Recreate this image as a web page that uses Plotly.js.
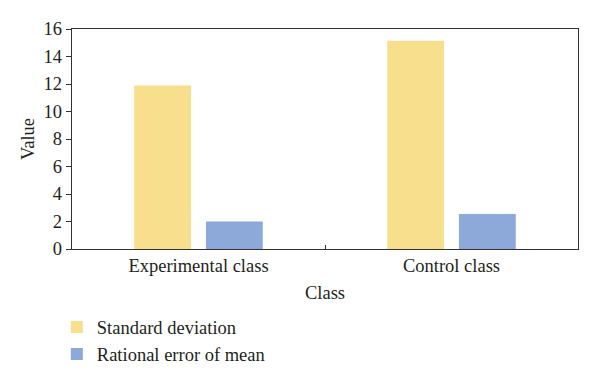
<!DOCTYPE html>
<html><head><meta charset="utf-8">
<script src="https://cdn.plot.ly/plotly-3.0.1.min.js"></script>
<style>body{margin:0;background:#fff}#c{width:600px;height:385px}</style>
</head><body><div id="c"></div>
<script>
var categories = ["Experimental class", "Control class"];
var seriesNames = ["Standard deviation", "Rational error of mean"];
var stdDev = [11.9, 15.15];
var errMean = [2.0, 2.55];
var colors = ["#F7DF8E", "#8CA9DA"];
var fontFam = "Liberation Serif, Times New Roman, serif";
var traces = [
  {type:"bar", x:categories, y:stdDev, name:seriesNames[0], marker:{color:colors[0]}},
  {type:"bar", x:categories, y:errMean, name:seriesNames[1], marker:{color:colors[1]}}
];
var layout = {
  width:600, height:385,
  margin:{l:72, r:22, t:29, b:134},
  paper_bgcolor:"#fff", plot_bgcolor:"#fff",
  font:{family:fontFam, color:"#231f20", size:18.5},
  barmode:"group", bargap:0.433, bargroupgap:0.208,
  showlegend:true,
  legend:{x:-0.03, y:-0.27, xanchor:"left", yanchor:"top", font:{size:18.5, family:fontFam}, tracegroupgap:4, itemwidth:30},
  xaxis:{type:"category", showline:true, linecolor:"#333", linewidth:1.2, mirror:true,
    ticks:"inside", tickson:"boundaries", ticklen:4, tickcolor:"#333", showgrid:false,
    tickfont:{size:18.5}, title:{text:"Class", font:{size:18.5}, standoff:10}},
  yaxis:{range:[0,16], dtick:2, showline:true, linecolor:"#333", linewidth:1.2, mirror:true,
    ticks:"outside", ticklen:5, tickcolor:"#333", showgrid:false, zeroline:false,
    tickfont:{size:18.5}, title:{text:"Value", font:{size:18.5}, standoff:4}}
};
Plotly.newPlot("c", traces, layout, {displayModeBar:false, staticPlot:true});
</script></body></html>
